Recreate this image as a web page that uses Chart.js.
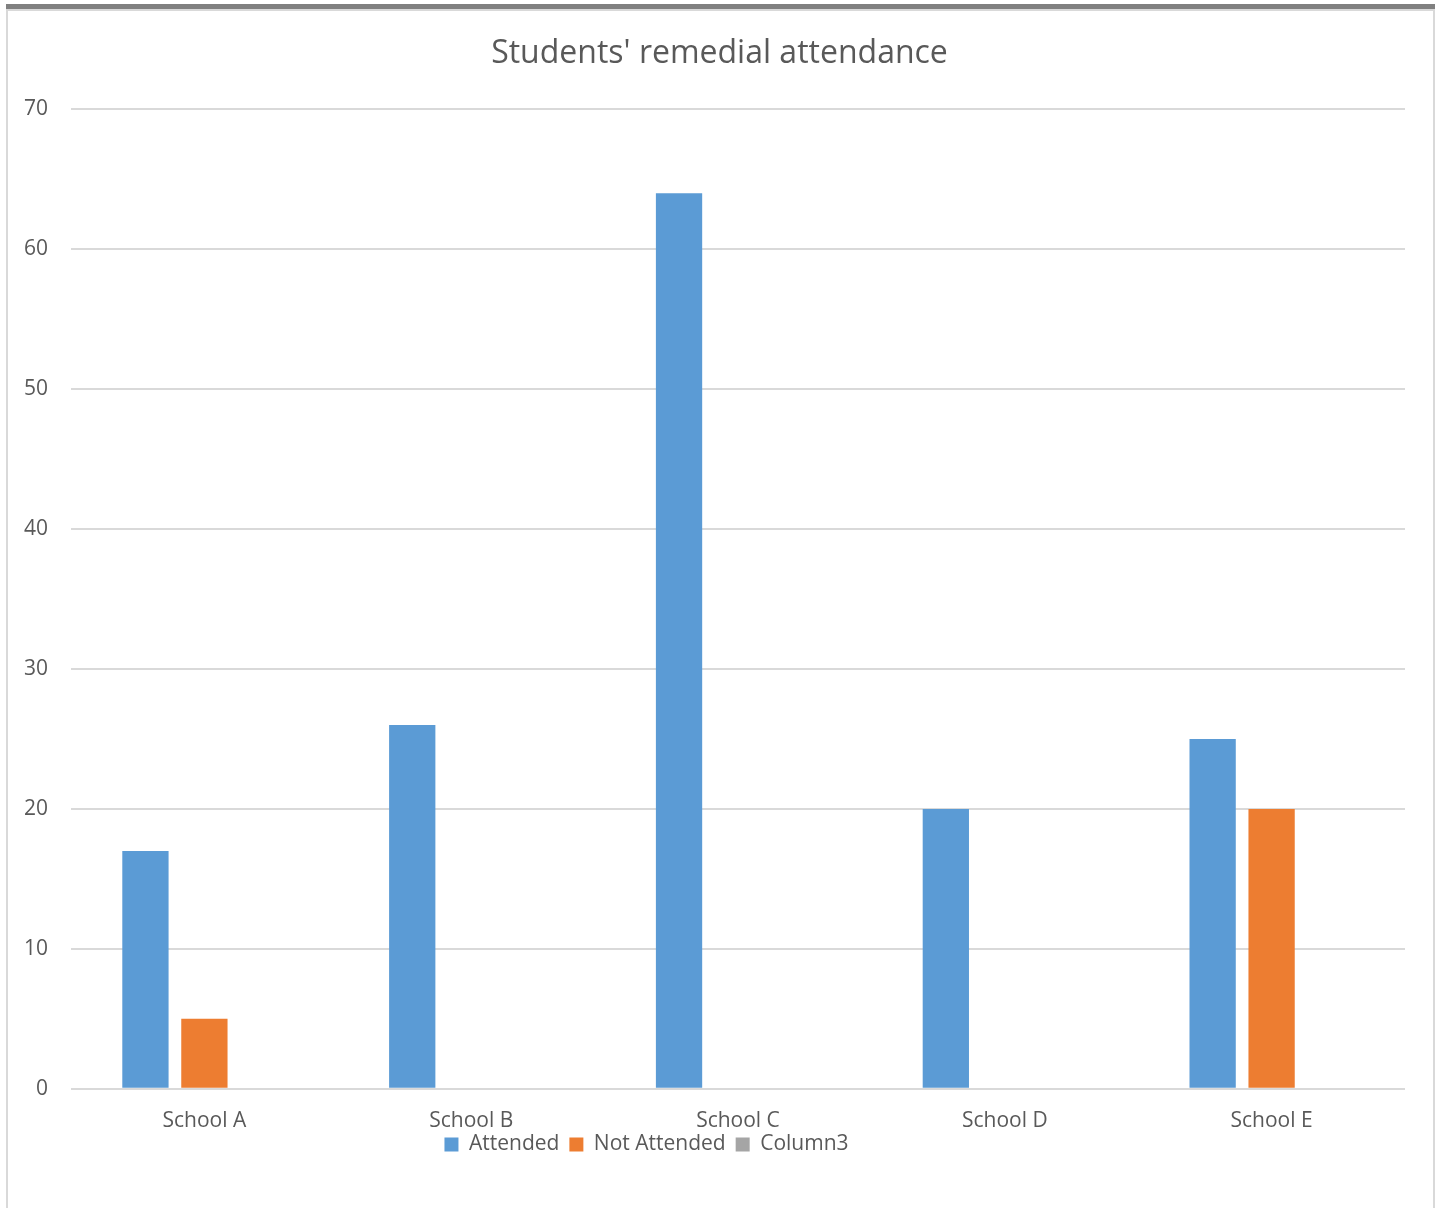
<!DOCTYPE html>
<html>
<head>
<meta charset="utf-8">
<title>Students' remedial attendance</title>
<script src="https://cdn.jsdelivr.net/npm/chart.js@4.4.1/dist/chart.umd.min.js"></script>
<style>
  html, body { margin: 0; padding: 0; background: #ffffff; }
  body { width: 1439px; height: 1208px; position: relative; overflow: hidden; }
  #frame {
    position: absolute; left: 6px; top: 4px; width: 1425px; height: 1204px;
    border-left: 2px solid #d9d9d9; border-right: 2px solid #d9d9d9;
    box-sizing: content-box;
  }
  #frameTop {
    position: absolute; left: 6px; top: 4px; width: 1429px; height: 5px;
    background: #808080; border-bottom: 2px solid #d9d9d9;
  }
  #wrap { position: absolute; left: 0; top: 0; width: 1439px; height: 1208px; }
</style>
</head>
<body>
<div id="frame"></div>
<div id="frameTop"></div>
<div id="wrap"><canvas id="chart" width="1439" height="1208"></canvas></div>
<script>
const schools = ['School A', 'School B', 'School C', 'School D', 'School E'];
const attended = [17, 26, 64, 20, 25];
const notAttended = [5, null, null, null, 20];
const column3 = [null, null, null, null, null];
const yTicks = [0, 10, 20, 30, 40, 50, 60, 70];

const textColor = '#595959';
const fontFamily = "'Open Sans', 'DejaVu Sans', sans-serif";

// Nudges the title to the page centre and the legend to sit under School B / C
const boxShift = {
  id: 'boxShift',
  afterLayout(chart) {
    const t = chart.titleBlock;
    if (t) { t.left += 17; t.right += 17; }
    const lg = chart.legend;
    if (lg) {
      const dx = -56, dy = -30;
      lg.left += dx; lg.right += dx;
      lg.top += dy; lg.bottom += dy;
    }
  }
};

new Chart(document.getElementById('chart'), {
  type: 'bar',
  data: {
    labels: schools,
    datasets: [
      { label: 'Attended', data: attended, backgroundColor: '#5b9bd5' },
      { label: 'Not Attended', data: notAttended, backgroundColor: '#ed7d31' },
      { label: 'Column3', data: column3, backgroundColor: '#a5a5a5' }
    ]
  },
  options: {
    responsive: false,
    animation: false,
    categoryPercentage: 0.663,
    barPercentage: 0.785,
    layout: { padding: { left: 0, right: 34, top: 0, bottom: 13 } },
    plugins: {
      title: {
        display: true,
        text: "Students' remedial attendance",
        color: textColor,
        font: { family: fontFamily, size: 32, weight: 'normal' },
        padding: { top: 35, bottom: 36 }
      },
      legend: {
        position: 'bottom',
        labels: {
          color: textColor,
          font: { family: fontFamily, size: 21 },
          boxWidth: 14, boxHeight: 14,
          padding: 10
        }
      },
      tooltip: { enabled: false }
    },
    scales: {
      x: {
        grid: { display: false, drawTicks: false },
        border: { display: false },
        ticks: { color: textColor, font: { family: fontFamily, size: 21 }, padding: 20, maxRotation: 0 }
      },
      y: {
        min: 0, max: 70,
        afterBuildTicks(axis) { axis.ticks = yTicks.map(v => ({ value: v })); },
        afterFit(axis) { axis.width = 71; },
        grid: { color: '#d9d9d9', lineWidth: 2, drawTicks: false },
        border: { display: false },
        ticks: { color: textColor, font: { family: fontFamily, size: 21 }, padding: 23 }
      }
    }
  },
  plugins: [boxShift]
});
</script>
</body>
</html>
